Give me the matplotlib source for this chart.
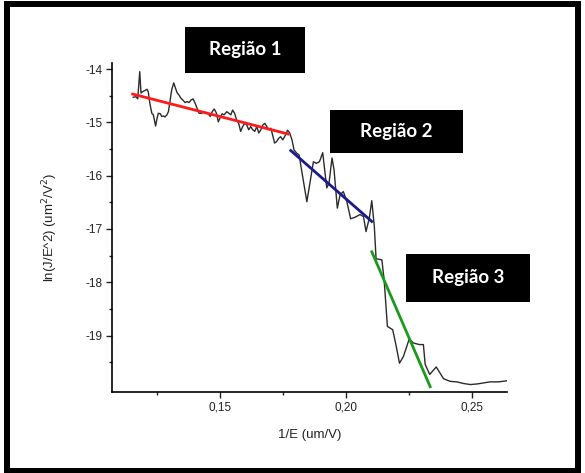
import matplotlib
matplotlib.use("Agg")
import matplotlib.pyplot as plt
from matplotlib.patches import Rectangle
from matplotlib.ticker import FixedLocator, FixedFormatter

plt.rcParams["axes.unicode_minus"] = False
plt.rcParams["font.family"] = ["Liberation Sans", "DejaVu Sans"]

# Measured curve: ln(J/E^2) versus 1/E
inv_e = [0.1155, 0.1166, 0.1173, 0.1181, 0.1186, 0.1191, 0.1199, 0.1210, 0.1215, 0.1221,
         0.1229, 0.1235, 0.1244, 0.1250, 0.1255, 0.1263, 0.1268, 0.1276, 0.1281, 0.1289,
         0.1295, 0.1302, 0.1308, 0.1316, 0.1321, 0.1329, 0.1337, 0.1345, 0.1354, 0.1361,
         0.1369, 0.1377, 0.1385, 0.1393, 0.1401, 0.1409, 0.1417, 0.1427, 0.1435, 0.1443,
         0.1453, 0.1461, 0.1469, 0.1477, 0.1485, 0.1493, 0.1500, 0.1508, 0.1516, 0.1527,
         0.1535, 0.1543, 0.1550, 0.1558, 0.1566, 0.1574, 0.1582, 0.1590, 0.1598, 0.1606,
         0.1614, 0.1622, 0.1630, 0.1638, 0.1646, 0.1654, 0.1662, 0.1670, 0.1678, 0.1686,
         0.1694, 0.1702, 0.1709, 0.1717, 0.1725, 0.1733, 0.1741, 0.1749, 0.1760, 0.1768,
         0.1776, 0.1786, 0.1794, 0.1805, 0.1814, 0.1845, 0.1871, 0.1882, 0.1895, 0.1908,
         0.1924, 0.1933, 0.1945, 0.1953, 0.1966, 0.1977, 0.1990, 0.2004, 0.2019, 0.2037,
         0.2056, 0.2070, 0.2080, 0.2093, 0.2103, 0.2113, 0.2120, 0.2143, 0.2152, 0.2165,
         0.2186, 0.2200, 0.2213, 0.2229, 0.2252, 0.2268, 0.2292, 0.2308, 0.2315, 0.2333,
         0.2359, 0.2388, 0.2414, 0.2441, 0.2467, 0.2494, 0.2520, 0.2547, 0.2573, 0.2606,
         0.2639]
ln_je2 = [-14.53, -14.52, -14.56, -14.05, -14.45, -14.43, -14.41, -14.38, -14.43, -14.64,
          -14.83, -14.86, -15.07, -14.92, -14.83, -14.84, -14.89, -14.88, -14.90, -14.86,
          -14.80, -14.58, -14.39, -14.26, -14.33, -14.44, -14.49, -14.55, -14.59, -14.63,
          -14.61, -14.63, -14.58, -14.56, -14.64, -14.74, -14.83, -14.83, -14.80, -14.82,
          -14.84, -14.89, -14.80, -14.75, -14.82, -14.99, -14.92, -14.84, -14.86, -14.80,
          -14.83, -14.86, -14.77, -14.83, -14.96, -15.02, -15.17, -15.08, -15.02, -15.05,
          -15.14, -15.08, -15.14, -15.17, -15.08, -15.20, -15.14, -15.05, -15.02, -15.08,
          -15.14, -15.11, -15.24, -15.39, -15.36, -15.30, -15.27, -15.33, -15.24, -15.15,
          -15.19, -15.33, -15.52, -15.58, -15.61, -16.49, -15.74, -15.77, -15.74, -15.57,
          -16.23, -16.14, -15.67, -15.89, -16.61, -16.36, -16.30, -16.49, -16.81, -16.78,
          -16.73, -16.77, -17.05, -16.80, -16.47, -16.95, -17.56, -17.58, -17.95, -18.83,
          -18.89, -19.20, -19.52, -19.39, -19.06, -19.14, -19.17, -19.17, -19.54, -19.73,
          -19.59, -19.81, -19.86, -19.87, -19.90, -19.92, -19.91, -19.89, -19.87, -19.87,
          -19.85]

# Linear fits for the three regions (end points)
fit1_x = [0.1153, 0.1771]
fit1_y = [-14.47, -15.22]
fit2_x = [0.1781, 0.2103]
fit2_y = [-15.53, -16.86]
fit3_x = [0.2103, 0.2335]
fit3_y = [-17.43, -19.96]

region_labels = ["Região 1", "Região 2", "Região 3"]

x_ticks = [0.15, 0.20, 0.25]
x_tick_labels = ["0,15", "0,20", "0,25"]
y_ticks = [-19, -18, -17, -16, -15, -14]
y_tick_labels = ["-19", "-18", "-17", "-16", "-15", "-14"]

W, H = 585, 473
fig = plt.figure(figsize=(W / 100, H / 100), dpi=100)
ax = fig.add_axes([112.3 / W, 1 - 392 / H, (506.7 - 112.3) / W, (392 - 63) / H])

ax.plot(inv_e, ln_je2, color="#2b2b2b", lw=1.0, zorder=2)
ax.plot(fit1_x, fit1_y, color="#ff1a1a", lw=2.0, zorder=3)
ax.plot(fit2_x, fit2_y, color="#1a1a8c", lw=2.0, zorder=3)
ax.plot(fit3_x, fit3_y, color="#1a9a1a", lw=2.0, zorder=3)

ax.set_xlim(0.1072, 0.2639)
ax.set_ylim(-20.06, -13.887)

for side in ("top", "right"):
    ax.spines[side].set_visible(False)
for side in ("left", "bottom"):
    ax.spines[side].set_linewidth(1.2)

ax.xaxis.set_major_locator(FixedLocator(x_ticks))
ax.xaxis.set_major_formatter(FixedFormatter(x_tick_labels))
ax.xaxis.set_minor_locator(FixedLocator([0.125, 0.175, 0.225]))
ax.yaxis.set_major_locator(FixedLocator(y_ticks))
ax.yaxis.set_major_formatter(FixedFormatter(y_tick_labels))
ax.yaxis.set_minor_locator(FixedLocator([-19.5, -18.5, -17.5, -16.5, -15.5, -14.5]))

ax.tick_params(which="major", direction="out", length=4.5, width=1.0,
               labelsize=8.5, pad=2.5, colors="#222222")
ax.tick_params(which="minor", direction="out", length=2.5, width=1.0, colors="#222222")

ax.set_xlabel("1/E (um/V)", fontsize=9.5, labelpad=11, color="#222222")
ax.set_ylabel("ln(J/E^2) (um$^2$/V$^2$)", fontsize=9.5, color="#222222")
ax.yaxis.set_label_coords(-0.132, 0.5)

# Region labels: white bold text on black boxes
boxes = [(185, 27, 305, 73), (330, 110, 463, 153), (406, 254, 530, 302)]
for (x0, y0, x1, y1), txt in zip(boxes, region_labels):
    fig.patches.append(Rectangle((x0 / W, 1 - y1 / H), (x1 - x0) / W, (y1 - y0) / H,
                                 transform=fig.transFigure, facecolor="black",
                                 edgecolor="none", zorder=5))
    fig.text((x0 + x1) / 2 / W, 1 - (y0 + y1) / 2 / H, txt, color="white",
             fontsize=13.5, fontweight="bold", family=["Lato", "DejaVu Sans"],
             ha="center", va="center", zorder=6)

# Outer frame
fig.patches.append(Rectangle((7 / W, 1 - 470.5 / H), (578 - 7) / W, (470.5 - 4.5) / H,
                             transform=fig.transFigure, facecolor="none",
                             edgecolor="black", lw=4.3, zorder=10))

fig.savefig("out.png", dpi=100)
